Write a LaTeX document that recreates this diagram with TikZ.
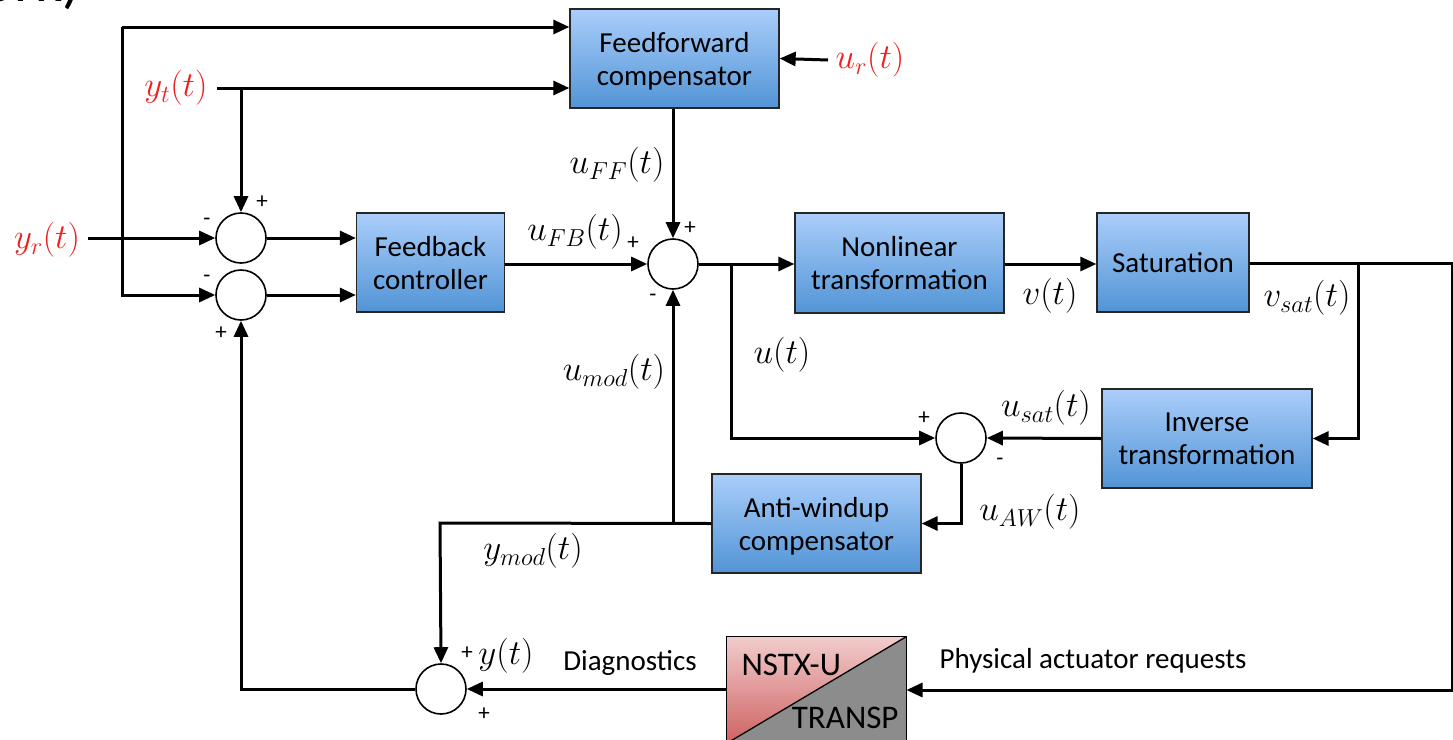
\RequirePackage{fix-cm}
\documentclass[tikz,border=0pt]{standalone}
\usepackage[no-math]{fontspec}
\setmainfont{Carlito}
\usetikzlibrary{arrows.meta}
\definecolor{boxtop}{RGB}{170,206,250}
\definecolor{boxbot}{RGB}{82,148,214}
\definecolor{sigred}{RGB}{240,30,30}
\definecolor{pinktop}{RGB}{242,204,204}
\definecolor{pinkbot}{RGB}{206,98,98}
\definecolor{graybox}{RGB}{140,140,140}
\begin{document}
\begin{tikzpicture}[x=1pt,y=-1pt,line width=3pt,
  >={Triangle[length=16pt,width=14pt]},
  blk/.style={draw=black!85,line width=1.3pt,top color=boxtop,bottom color=boxbot,
    font=\fontsize{29}{33}\selectfont,align=center,inner sep=0pt,text depth=0pt},
  sumj/.style={circle,draw,line width=1.6pt,minimum size=50pt,inner sep=0pt,fill=white},
  lab/.style={font=\fontsize{35}{40}\selectfont,inner sep=0pt},
  rlab/.style={lab,text=sigred},
  txt/.style={font=\fontsize{29}{33}\selectfont,inner sep=0pt},
  ptxt/.style={font=\fontsize{33}{38}\selectfont,inner sep=0pt},
  sgn/.style={font=\fontsize{23}{26}\selectfont,inner sep=0pt}]
\useasboundingbox (0,0) rectangle (1453,739);
\begin{scope}
\clip (0,0) rectangle (1453,739);
\node[font=\fontsize{60}{66}\selectfont,anchor=base east,inner sep=0pt] (ork) at (82,1) {ork)};
\end{scope}
% blocks
\node[blk,minimum width=209pt,minimum height=99pt] (ff) at (674.5,58.5) {Feedforward\\compensator};
\node[blk,minimum width=148pt,minimum height=99pt] (fb) at (430.5,262.5) {Feedback\\controller};
\node[blk,minimum width=209pt,minimum height=100pt] (nl) at (899.5,263) {Nonlinear\\transformation};
\node[blk,minimum width=152pt,minimum height=99pt] (sat) at (1173,262.5) {Saturation};
\node[blk,minimum width=210pt,minimum height=99pt] (inv) at (1207,438.5) {Inverse\\transformation};
\node[blk,minimum width=209pt,minimum height=99pt] (aw) at (816.5,523.5) {Anti-windup\\compensator};
% plant
\node[minimum width=177pt,minimum height=104pt,inner sep=0pt] (nstx) at (816.5,690) {};
\shade[top color=pinktop,bottom color=pinkbot] (nstx.north west) -- (nstx.north east) -- (nstx.south west) -- cycle;
\fill[graybox] (nstx.north east) -- (nstx.south east) -- (nstx.south west) -- cycle;
\draw[line width=1.3pt] (nstx.north west) rectangle (nstx.south east);
\draw[line width=1.3pt] (nstx.south west) -- (nstx.north east);
\node[ptxt,anchor=west] (nst) at (740,665) {NSTX-U};
\node[ptxt,anchor=east] (trp) at (900,718) {TRANSP};
% summing junctions
\node[sumj] (s1) at (241,238) {};
\node[sumj] (s2) at (241,295) {};
\node[sumj] (s3) at (673,264) {};
\node[sumj] (s4) at (961,438) {};
\node[sumj] (s5) at (441,689) {};
% labels
\node[rlab] (yr) at (47,240) {$y_r(t)$};
\node[rlab] (yt) at (176,88) {$y_t(t)$};
\node[rlab] (ur) at (870,60) {$u_r(t)$};
\node[lab] (uff) at (617,165) {$u_{FF}(t)$};
\node[lab] (ufb) at (575,232) {$u_{FB}(t)$};
\node[lab] (vt) at (1050,296) {$v(t)$};
\node[lab] (vsat) at (1307,298) {$v_{sat}(t)$};
\node[lab] (ut) at (782,355) {$u(t)$};
\node[lab] (usat) at (1046,408) {$u_{sat}(t)$};
\node[lab] (uaw) at (1030,512) {$u_{AW}(t)$};
\node[lab] (umod) at (614,372) {$u_{mod}(t)$};
\node[lab] (ymod) at (533,551) {$y_{mod}(t)$};
\node[lab] (yt2) at (506,656) {$y(t)$};
\node[txt] (diag) at (630,663) {Diagnostics};
\node[txt] (phys) at (1093,661) {Physical actuator requests};
% signs
\node[sgn] at (207,222) {-};
\node[sgn] at (262,202) {+};
\node[sgn] at (207,279) {-};
\node[sgn] at (221,333) {+};
\node[sgn] at (633,243) {+};
\node[sgn] at (690,228) {+};
\node[sgn] at (653,298) {-};
\node[sgn] at (924,418) {+};
\node[sgn] at (1000,462) {-};
\node[sgn] at (467,653) {+};
\node[sgn] at (484,714) {+};
% coordinates
\coordinate (yrs) at (88,238);
\coordinate (ta) at (122,27);
\coordinate (yts) at (217,88);
\coordinate (urs) at (828,60);
\coordinate (ub) at (731,264);
\coordinate (rt) at (1452,263);
\coordinate (vb) at (1358,263);
\coordinate (awl) at (440,523);
% connectors
\draw[->] (yrs) -- (s1.west);
\draw[->] (ta) -- (ta -| ff.west);
\draw[->] (ta) -- (ta |- s2) -- (s2.west);
\draw[->] (yts) -- (yts -| ff.west);
\draw[->] (s1 |- yts) -- (s1.north);
\draw[->] (s1.east) -- (s1 -| fb.west);
\draw[->] (s2.east) -- (s2 -| fb.west);
\draw[->] (urs) -- (ff.east);
\draw[->] (ff.south -| s3) -- (s3.north);
\draw[->] (fb.east |- s3) -- (s3.west);
\draw[->] (s3.east) -- (s3 -| nl.west);
\draw[->] (ub) -- (ub |- s4) -- (s4.west);
\draw[->] (nl.east |- ub) -- (sat.west |- ub);
\draw[->] (sat.east |- rt) -- (rt) -- (rt |- nstx) -- (nstx.east);
\draw[->] (vb) -- (vb |- inv) -- (inv.east);
\draw[->] (inv.west) -- (s4.east);
\draw[->] (s4.south) -- (s4 |- aw) -- (aw.east);
\draw[->] (aw.west) -- (awl) -- (s5.north);
\draw[->] (s3 |- aw) -- (s3.south);
\draw[->] (nstx.west |- s5) -- (s5.east);
\draw[->] (s5.west) -- (s5.west -| s2) -- (s2.south);
\end{tikzpicture}
\end{document}
